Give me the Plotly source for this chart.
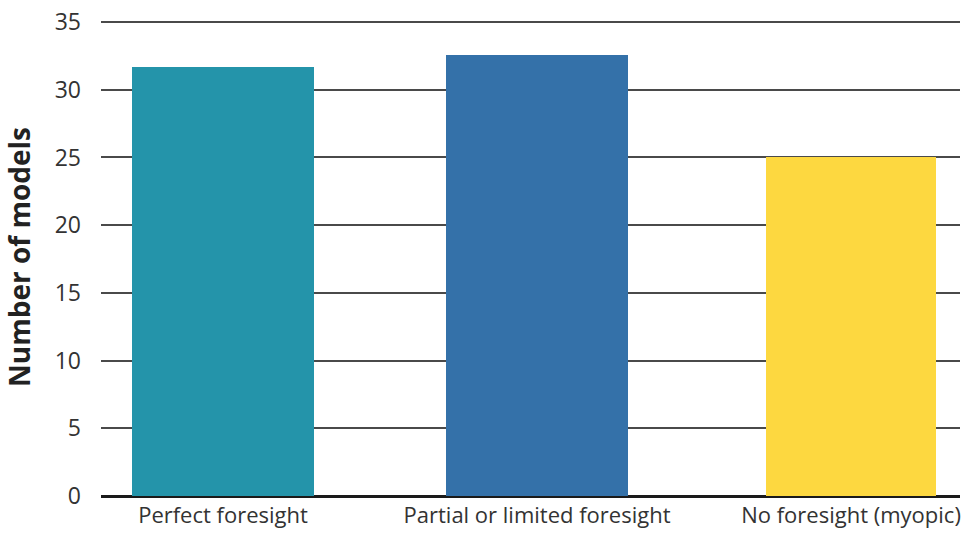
import plotly.graph_objects as go

categories = ["Perfect foresight", "Partial or limited foresight", "No foresight (myopic)"]
values = [31.7, 32.6, 25]
colors = ["#2494aa", "#3471a9", "#fdd840"]
bar_widths = [0.58, 0.58, 0.54]

fig = go.Figure()
fig.add_trace(go.Bar(
    x=categories, y=values, marker=dict(color=colors, line=dict(width=0)),
    width=bar_widths, showlegend=False,
))

font_family = "'Open Sans', 'Noto Sans', sans-serif"
fig.update_layout(
    width=968, height=543,
    margin=dict(l=101, r=8, t=18, b=47),
    paper_bgcolor="white", plot_bgcolor="white",
    font=dict(family=font_family, size=23, color="#333333"),
    xaxis=dict(
        type="category", range=[-0.3885, 2.347], showgrid=False, automargin=False,
        showline=False, zeroline=False, ticks="", ticklabelstandoff=4,
        ticklabeloverflow="allow",
        tickfont=dict(size=22, color="#333333"),
    ),
    yaxis=dict(
        range=[0, 35.3], tick0=0, dtick=5, showgrid=True, gridcolor="#4a4a4a", gridwidth=1.6,
        zeroline=True, zerolinecolor="#1a1a1a", zerolinewidth=3, automargin=False,
        showline=False, ticks="", ticklabelstandoff=19, ticklabeloverflow="allow",
        tickfont=dict(size=23, color="#333333"),
        title=dict(text="<b>Number of models</b>", font=dict(size=28, color="#222222"), standoff=16),
    ),
    bargap=0,
)
fig.write_html("out.html", config={"displayModeBar": False},
               post_script="document.body.style.margin='0';")
